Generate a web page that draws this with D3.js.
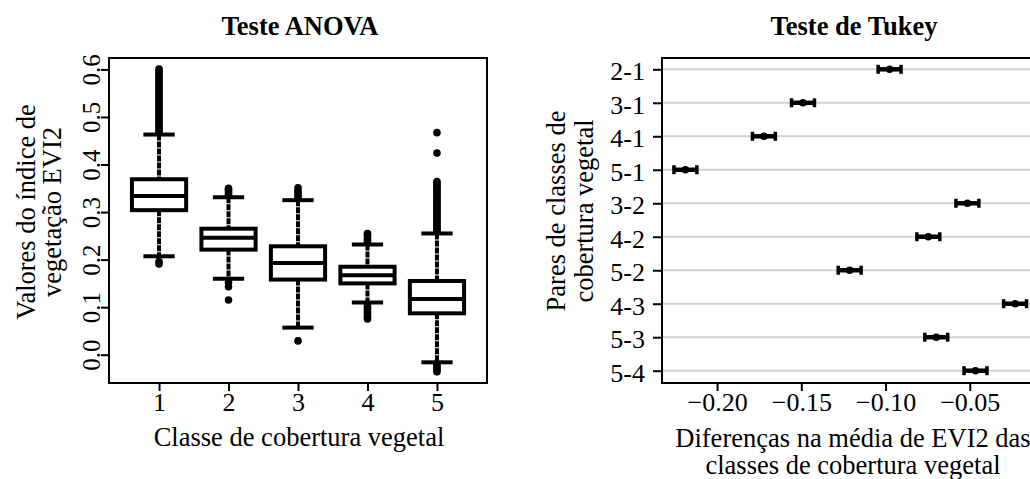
<!DOCTYPE html>
<html>
<head>
<meta charset="utf-8">
<script src="https://cdn.jsdelivr.net/npm/d3@7"></script>
<style>
  body { margin: 0; background: #fff; }
  svg { display: block; font-family: "Liberation Serif", "Times New Roman", serif; }
</style>
</head>
<body>
<svg></svg>
<script>
const width = 1030;
const height = 479;

// boxplot (ANOVA) data
const classes = [1, 2, 3, 4, 5];
const whiskerLow = [0.207, 0.160, 0.057, 0.110, -0.016];
const q1 = [0.304, 0.221, 0.158, 0.150, 0.087];
const median = [0.334, 0.246, 0.193, 0.167, 0.117];
const q3 = [0.369, 0.265, 0.228, 0.185, 0.155];
const whiskerHigh = [0.463, 0.331, 0.325, 0.232, 0.255];
const outliers = [
  [0.468, 0.472, 0.477, 0.481, 0.485, 0.490, 0.494, 0.498, 0.503, 0.507, 0.512, 0.516,
   0.521, 0.525, 0.530, 0.534, 0.539, 0.543, 0.548, 0.552, 0.557, 0.561, 0.566, 0.570,
   0.575, 0.579, 0.584, 0.588, 0.593, 0.597, 0.601, 0.196, 0.191],
  [0.335, 0.339, 0.343, 0.347, 0.350, 0.152, 0.143, 0.115],
  [0.330, 0.335, 0.340, 0.345, 0.351, 0.029],
  [0.236, 0.240, 0.244, 0.248, 0.252, 0.255, 0.106, 0.101, 0.097, 0.092, 0.088, 0.083,
   0.079, 0.075],
  [0.260, 0.264, 0.268, 0.272, 0.276, 0.280, 0.284, 0.288, 0.292, 0.296, 0.300, 0.304,
   0.308, 0.312, 0.316, 0.320, 0.324, 0.328, 0.332, 0.336, 0.340, 0.344, 0.348, 0.352,
   0.356, 0.360, 0.364, 0.424, 0.467, -0.020, -0.024, -0.028, -0.032, -0.036]
];
const yTicks = [0.0, 0.1, 0.2, 0.3, 0.4, 0.5, 0.6];

// Tukey data
const pairs = ["2-1", "3-1", "4-1", "5-1", "3-2", "4-2", "5-2", "4-3", "5-3", "5-4"];
const diff = [-0.0976, -0.1490, -0.1722, -0.2188, -0.0514, -0.0746, -0.1213, -0.0231, -0.0699, -0.0466];
const lwr = [-0.1044, -0.1558, -0.1790, -0.2256, -0.0582, -0.0814, -0.1281, -0.0299, -0.0767, -0.0534];
const upr = [-0.0908, -0.1422, -0.1654, -0.2120, -0.0446, -0.0678, -0.1145, -0.0163, -0.0631, -0.0398];
const xTicksTukey = [-0.20, -0.15, -0.10, -0.05];

const svg = d3.select("svg").attr("width", width).attr("height", height);
svg.append("rect").attr("width", width).attr("height", height).attr("fill", "#fff");

// ---------- painel esquerdo: ANOVA ----------
const L = { left: 109, right: 487, top: 58, bottom: 383 };

const x = d3.scaleLinear().domain([0.28, 5.72]).range([L.left, L.right]);
const y = d3.scaleLinear().domain([-0.0595, 0.624]).range([L.bottom, L.top]);

const g1 = svg.append("g");
const boxW = x(0.39) - x(0);
const capW = x(0.225) - x(0);

const boxes = g1.selectAll("g.box").data(classes).join("g").attr("class", "box");

// bigodes
boxes.append("line")
  .attr("x1", d => x(d)).attr("x2", d => x(d))
  .attr("y1", (d, i) => y(whiskerHigh[i])).attr("y2", (d, i) => y(q3[i]))
  .attr("stroke", "#000").attr("stroke-width", 4).attr("stroke-dasharray", "6,1");
boxes.append("line")
  .attr("x1", d => x(d)).attr("x2", d => x(d))
  .attr("y1", (d, i) => y(q1[i])).attr("y2", (d, i) => y(whiskerLow[i]))
  .attr("stroke", "#000").attr("stroke-width", 4).attr("stroke-dasharray", "6,1");

// outliers
boxes.each(function (d, i) {
  d3.select(this).selectAll("circle").data(outliers[i]).join("circle")
    .attr("cx", x(d)).attr("cy", v => y(v)).attr("r", 3.8).attr("fill", "#000");
});

// caps
boxes.append("line")
  .attr("x1", d => x(d) - capW).attr("x2", d => x(d) + capW)
  .attr("y1", (d, i) => y(whiskerHigh[i])).attr("y2", (d, i) => y(whiskerHigh[i]))
  .attr("stroke", "#000").attr("stroke-width", 4);
boxes.append("line")
  .attr("x1", d => x(d) - capW).attr("x2", d => x(d) + capW)
  .attr("y1", (d, i) => y(whiskerLow[i])).attr("y2", (d, i) => y(whiskerLow[i]))
  .attr("stroke", "#000").attr("stroke-width", 4);

// caixa
boxes.append("rect")
  .attr("x", d => x(d) - boxW).attr("width", boxW * 2)
  .attr("y", (d, i) => y(q3[i])).attr("height", (d, i) => y(q1[i]) - y(q3[i]))
  .attr("fill", "#fff").attr("stroke", "#000").attr("stroke-width", 4);
boxes.append("line")
  .attr("x1", d => x(d) - boxW).attr("x2", d => x(d) + boxW)
  .attr("y1", (d, i) => y(median[i])).attr("y2", (d, i) => y(median[i]))
  .attr("stroke", "#000").attr("stroke-width", 4);

// moldura
g1.append("rect")
  .attr("x", L.left).attr("y", L.top)
  .attr("width", L.right - L.left).attr("height", L.bottom - L.top)
  .attr("fill", "none").attr("stroke", "#000").attr("stroke-width", 2);

// eixo x
const ax1 = g1.append("g")
  .attr("transform", `translate(0,${L.bottom})`)
  .call(d3.axisBottom(x).tickValues(classes).tickFormat(d3.format("d")).tickSize(8).tickPadding(2));
ax1.select(".domain").remove();
ax1.selectAll("line").attr("stroke-width", 2);
ax1.selectAll("text").attr("font-size", 26).attr("font-family", "Liberation Serif").attr("fill", "#000");

// eixo y
const ay1 = g1.append("g")
  .attr("transform", `translate(${L.left},0)`)
  .call(d3.axisLeft(y).tickValues(yTicks).tickFormat(d3.format(".1f")).tickSize(8));
ay1.select(".domain").remove();
ay1.selectAll("line").attr("stroke-width", 2);
ay1.selectAll("text")
  .attr("transform", "rotate(-90)")
  .attr("x", 0).attr("y", -9).attr("dy", 0)
  .attr("text-anchor", "middle")
  .attr("font-size", 25).attr("font-family", "Liberation Serif").attr("fill", "#000");

g1.append("text")
  .attr("x", 300).attr("y", 35)
  .attr("text-anchor", "middle").attr("font-size", 26.5).attr("font-weight", "bold")
  .text("Teste ANOVA");

g1.append("text")
  .attr("x", 299).attr("y", 446)
  .attr("text-anchor", "middle").attr("font-size", 26.5)
  .text("Classe de cobertura vegetal");

g1.append("text")
  .attr("transform", "translate(35,212) rotate(-90)")
  .attr("text-anchor", "middle").attr("font-size", 26.5)
  .text("Valores do índice de");
g1.append("text")
  .attr("transform", "translate(61,212) rotate(-90)")
  .attr("text-anchor", "middle").attr("font-size", 26.5)
  .text("vegetação EVI2");

// ---------- painel direito: Tukey ----------
const R = { left: 662, right: 1054, top: 58, bottom: 383 };

const x2 = d3.scaleLinear().domain([-0.2327, 0.0]).range([R.left, R.right]);
const y2 = d3.scalePoint().domain(pairs).range([69.3, 370.7]);

const g2 = svg.append("g");

// grade
g2.selectAll("line.grid").data(pairs).join("line").attr("class", "grid")
  .attr("x1", R.left).attr("x2", R.right)
  .attr("y1", d => y2(d)).attr("y2", d => y2(d))
  .attr("stroke", "#d3d3d3").attr("stroke-width", 2);

// intervalos
const ci = g2.selectAll("g.ci").data(pairs).join("g").attr("class", "ci");
ci.append("line")
  .attr("x1", (d, i) => x2(lwr[i])).attr("x2", (d, i) => x2(upr[i]))
  .attr("y1", d => y2(d)).attr("y2", d => y2(d))
  .attr("stroke", "#000").attr("stroke-width", 4.5);
ci.append("line")
  .attr("x1", (d, i) => x2(lwr[i])).attr("x2", (d, i) => x2(lwr[i]))
  .attr("y1", d => y2(d) - 4.5).attr("y2", d => y2(d) + 4.5)
  .attr("stroke", "#000").attr("stroke-width", 3.5);
ci.append("line")
  .attr("x1", (d, i) => x2(upr[i])).attr("x2", (d, i) => x2(upr[i]))
  .attr("y1", d => y2(d) - 4.5).attr("y2", d => y2(d) + 4.5)
  .attr("stroke", "#000").attr("stroke-width", 3.5);
ci.append("circle")
  .attr("cx", (d, i) => x2(diff[i])).attr("cy", d => y2(d))
  .attr("r", 3.8).attr("fill", "#000");

g2.append("rect")
  .attr("x", R.left).attr("y", R.top)
  .attr("width", R.right - R.left).attr("height", R.bottom - R.top)
  .attr("fill", "none").attr("stroke", "#000").attr("stroke-width", 2);

const ax2 = g2.append("g")
  .attr("transform", `translate(0,${R.bottom})`)
  .call(d3.axisBottom(x2).tickValues(xTicksTukey).tickFormat(d3.format(".2f")).tickSize(8).tickPadding(2));
ax2.select(".domain").remove();
ax2.selectAll("line").attr("stroke-width", 2);
ax2.selectAll("text").attr("font-size", 26).attr("font-family", "Liberation Serif").attr("fill", "#000");

const ay2 = g2.append("g")
  .attr("transform", `translate(${R.left},0)`)
  .call(d3.axisLeft(y2).tickSize(9).tickPadding(8));
ay2.select(".domain").remove();
ay2.selectAll("line").attr("stroke-width", 2);
ay2.selectAll("text")
  .attr("dy", "0.4em")
  .attr("font-size", 26).attr("font-family", "Liberation Serif").attr("fill", "#000");

g2.append("text")
  .attr("x", 854).attr("y", 35)
  .attr("text-anchor", "middle").attr("font-size", 26.5).attr("font-weight", "bold")
  .text("Teste de Tukey");

g2.append("text")
  .attr("x", 853).attr("y", 447)
  .attr("text-anchor", "middle").attr("font-size", 26.5)
  .text("Diferenças na média de EVI2 das");
g2.append("text")
  .attr("x", 853).attr("y", 474)
  .attr("text-anchor", "middle").attr("font-size", 26.5)
  .text("classes de cobertura vegetal");

g2.append("text")
  .attr("transform", "translate(565,211) rotate(-90)")
  .attr("text-anchor", "middle").attr("font-size", 26.5)
  .text("Pares de classes de");
g2.append("text")
  .attr("transform", "translate(593,211) rotate(-90)")
  .attr("text-anchor", "middle").attr("font-size", 26.5)
  .text("cobertura vegetal");
</script>
</body>
</html>
